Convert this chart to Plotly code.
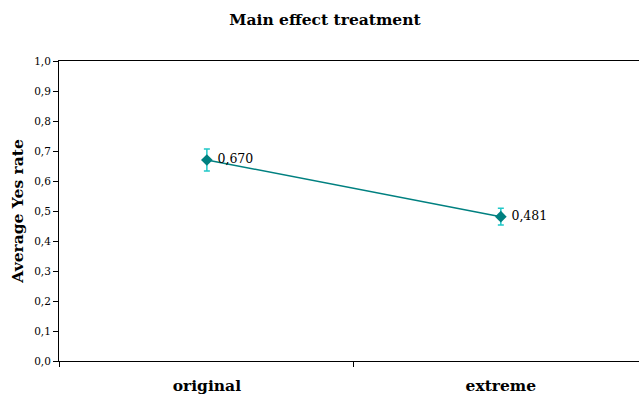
import plotly.graph_objects as go

categories = ["original", "extreme"]
avg_yes = [0.670, 0.481]
err = [0.037, 0.028]
y_ticks = [0.0, 0.1, 0.2, 0.3, 0.4, 0.5, 0.6, 0.7, 0.8, 0.9, 1.0]

FONT = "DejaVu Serif"
x_idx = list(range(len(categories)))

fig = go.Figure()
fig.add_trace(go.Scatter(
    x=x_idx, y=avg_yes,
    mode="lines+markers+text",
    line=dict(color="#008080", width=1.5),
    marker=dict(symbol="diamond", size=9, color="#008080"),
    error_y=dict(type="data", array=err, visible=True, color="#20C8C8", thickness=1.5, width=3),
    text=[" " + f"{v:.3f}".replace(".", ",") for v in avg_yes],
    textposition="middle right",
    textfont=dict(family=FONT, size=12.5, color="black"),
    cliponaxis=False,
    showlegend=False,
))

fig.update_layout(
    width=639, height=394,
    margin=dict(l=59, r=0, t=61, b=33),
    paper_bgcolor="white", plot_bgcolor="white",
    separators=",.",
    font=dict(family=FONT, color="black"),
    title=dict(text="<b>Main effect treatment</b>", x=325 / 639, xref="container", xanchor="center",
               y=1 - 20 / 394, yref="container", yanchor="middle",
               font=dict(family=FONT, size=15.5, color="black")),
    xaxis=dict(
        range=[-0.503, 1.47],
        tickvals=x_idx, ticktext=[f"<b>{c}</b>" for c in categories],
        ticks="", tickfont=dict(family=FONT, size=15.5, color="black"),
        ticklabelstandoff=10,
        showgrid=False, zeroline=False,
        showline=True, linecolor="black", linewidth=1, mirror=True,
        minor=dict(ticks="outside", tick0=0.5, dtick=1, ticklen=5, tickcolor="black", showgrid=False),
    ),
    yaxis=dict(
        range=[0, 1.0], tickvals=y_ticks, tickformat=".1f",
        ticks="outside", ticklen=5, tickcolor="black",
        tickfont=dict(family=FONT, size=10.5, color="black"),
        showgrid=False, zeroline=False,
        showline=True, linecolor="black", linewidth=1,
        title=dict(text="<b>Average Yes rate</b>", font=dict(family=FONT, size=15.5, color="black"), standoff=6),
    ),
)

fig.write_html(
    "out.html",
    config={"displayModeBar": False},
    post_script="document.body.style.margin='0';document.documentElement.style.overflow='hidden';document.body.style.overflow='hidden';",
)
